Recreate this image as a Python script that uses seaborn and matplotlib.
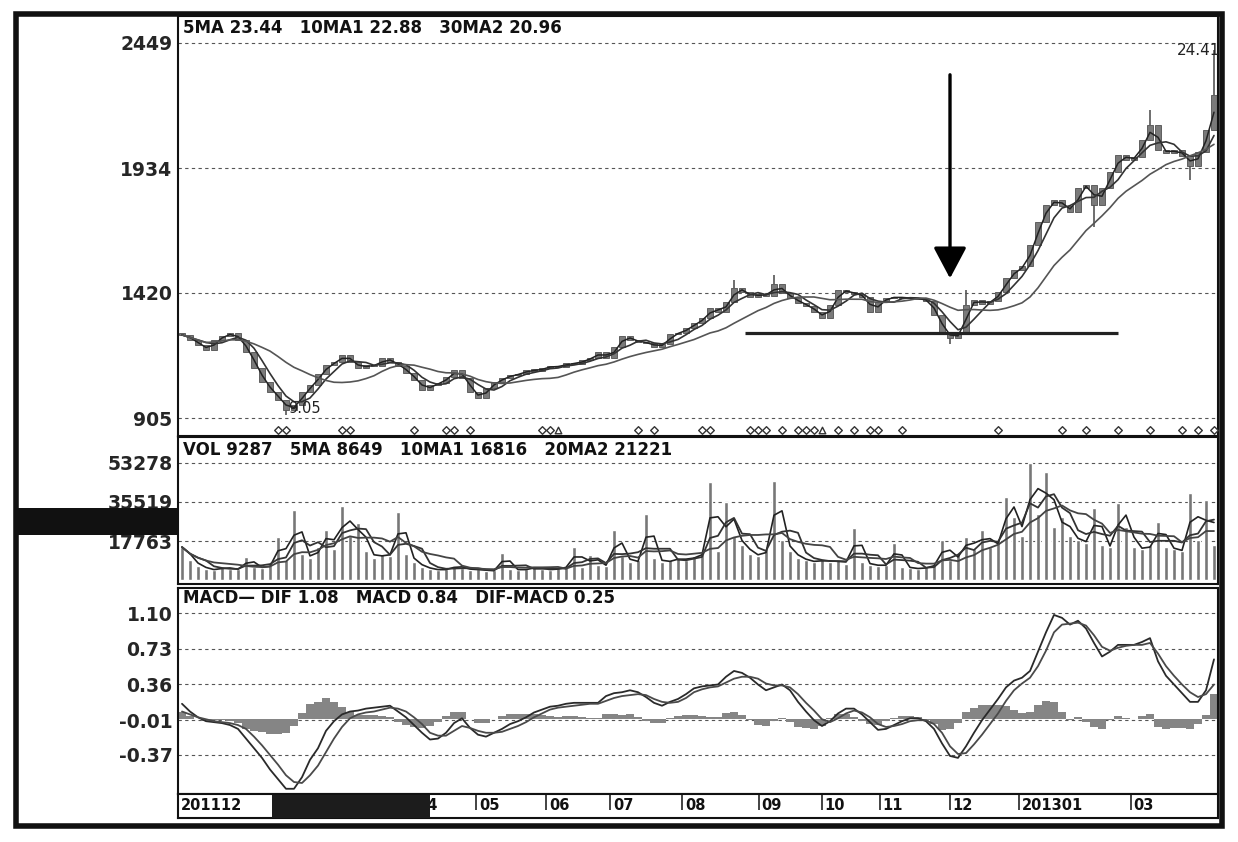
import numpy as np
import pandas as pd
import matplotlib
matplotlib.use("Agg")
import matplotlib.pyplot as plt
from matplotlib.patches import Rectangle
import seaborn as sns

# ---- data (one value per bar, ~2-3 trading days each) ----
close = [
    1247, 1226, 1206, 1185, 1226, 1243, 1255, 1226, 1177, 1111,
    1053, 1012, 979, 938, 959, 1012, 1041, 1086, 1123, 1136,
    1165, 1136, 1111, 1123, 1119, 1152, 1136, 1119, 1090, 1062,
    1020, 1041, 1049, 1074, 1103, 1070, 1012, 987, 1029, 1053,
    1070, 1082, 1086, 1103, 1099, 1111, 1119, 1115, 1132, 1127,
    1144, 1152, 1177, 1152, 1198, 1243, 1226, 1218, 1214, 1198,
    1210, 1251, 1255, 1276, 1296, 1317, 1358, 1342, 1383, 1441,
    1424, 1404, 1416, 1408, 1457, 1420, 1399, 1379, 1366, 1342,
    1317, 1371, 1432, 1424, 1416, 1404, 1342, 1383, 1399, 1404,
    1399, 1399, 1395, 1387, 1329, 1259, 1235, 1251, 1371, 1391,
    1375, 1387, 1424, 1482, 1515, 1531, 1618, 1713, 1783, 1803,
    1778, 1754, 1853, 1865, 1783, 1853, 1919, 1989, 1968, 1980,
    2050, 2112, 2009, 1997, 2009, 1984, 1943, 2001, 2092, 2236,
]
wick_bar = [13, 69, 74, 96, 98, 114, 121, 126, 129]
wick_val = [917, 1474, 1494, 1210, 1432, 1692, 2174, 1886, 2420]

volume = [
    15000, 9000, 6500, 5000, 4500, 6000, 5000, 4800, 10500, 6000,
    5500, 7000, 19600, 9000, 31800, 12000, 10000, 15000, 22700, 14000,
    33700, 20000, 26000, 13000, 10000, 12000, 11000, 31000, 12000, 8000,
    6000, 5000, 4500, 5000, 6500, 5500, 4500, 5000, 4000, 4500,
    12300, 5000, 4500, 5000, 6000, 5000, 4500, 5500, 6000, 15000,
    6000, 11400, 7000, 6500, 22700, 11000, 8000, 9000, 30000, 10000,
    8000, 9000, 10000, 9000, 11000, 12000, 44600, 13000, 35500, 20000,
    16000, 12000, 11000, 14000, 45000, 18000, 13000, 10000, 9000, 8000,
    9500, 8000, 9000, 7500, 23600, 8000, 7000, 6500, 7000, 16800,
    6000, 5500, 5000, 6000, 7000, 18200, 9000, 12000, 19600, 14000,
    22700, 15000, 18000, 37800, 28700, 20000, 53200, 30000, 49100, 24000,
    28700, 20000, 18000, 17000, 32700, 16000, 15000, 35000, 24100, 15000,
    14000, 16000, 26400, 15000, 14000, 13000, 39600, 18000, 36400, 16000,
]

dif = [
    0.16, 0.08, 0.02, -0.02, -0.03, -0.04, -0.06, -0.10, -0.20, -0.30,
    -0.40, -0.52, -0.62, -0.72, -0.72, -0.60, -0.42, -0.30, -0.12, -0.02,
    0.05, 0.08, 0.09, 0.11, 0.12, 0.13, 0.14, 0.08, 0.02, -0.06,
    -0.14, -0.21, -0.20, -0.14, -0.04, 0.01, -0.09, -0.16, -0.18, -0.14,
    -0.10, -0.05, -0.02, 0.02, 0.07, 0.10, 0.13, 0.14, 0.16, 0.17,
    0.17, 0.17, 0.17, 0.24, 0.27, 0.28, 0.30, 0.28, 0.23, 0.17,
    0.14, 0.18, 0.21, 0.26, 0.32, 0.34, 0.35, 0.36, 0.44, 0.50,
    0.48, 0.43, 0.36, 0.30, 0.33, 0.36, 0.30, 0.18, 0.08, -0.01,
    -0.07, -0.02, 0.06, 0.11, 0.11, 0.05, -0.03, -0.11, -0.10, -0.06,
    -0.02, 0.01, 0.01, -0.02, -0.10, -0.25, -0.38, -0.40, -0.28, -0.14,
    -0.01, 0.10, 0.21, 0.33, 0.40, 0.43, 0.50, 0.70, 0.90, 1.08,
    1.05, 0.98, 1.02, 0.94, 0.79, 0.65, 0.70, 0.77, 0.77, 0.77,
    0.80, 0.84, 0.60, 0.45, 0.36, 0.27, 0.18, 0.18, 0.30, 0.62,
]
dea = [
    0.08, 0.05, 0.02, 0.00, -0.02, -0.03, -0.04, -0.06, -0.10, -0.18,
    -0.27, -0.37, -0.47, -0.58, -0.65, -0.66, -0.58, -0.48, -0.34, -0.20,
    -0.08, 0.01, 0.05, 0.07, 0.08, 0.10, 0.12, 0.11, 0.08, 0.02,
    -0.05, -0.14, -0.17, -0.17, -0.12, -0.07, -0.09, -0.12, -0.14, -0.14,
    -0.13, -0.10, -0.07, -0.03, 0.02, 0.06, 0.10, 0.12, 0.13, 0.14,
    0.15, 0.16, 0.16, 0.19, 0.22, 0.24, 0.25, 0.26, 0.25, 0.21,
    0.18, 0.17, 0.18, 0.22, 0.28, 0.31, 0.33, 0.34, 0.38, 0.42,
    0.44, 0.44, 0.42, 0.37, 0.35, 0.35, 0.33, 0.26, 0.17, 0.09,
    0.00, -0.03, 0.01, 0.06, 0.09, 0.07, 0.02, -0.05, -0.08, -0.07,
    -0.05, -0.02, -0.01, -0.01, -0.05, -0.14, -0.28, -0.36, -0.35, -0.26,
    -0.16, -0.05, 0.06, 0.19, 0.30, 0.37, 0.43, 0.55, 0.71, 0.90,
    0.98, 0.99, 1.00, 0.97, 0.87, 0.75, 0.71, 0.74, 0.76, 0.77,
    0.77, 0.79, 0.68, 0.55, 0.45, 0.36, 0.28, 0.23, 0.26, 0.36,
]

signal_bars = [12, 13, 20, 21, 29, 33, 34, 36, 45, 46, 57, 59, 65, 66,
               71, 72, 73, 75, 77, 78, 79, 82, 84, 86, 87, 90, 102, 110,
               113, 117, 121, 125, 127, 129]
triangle_bars = [47, 80]

month_labels = ["201112", "04", "05", "06", "07", "08", "09", "10", "11",
                "12", "201301", "03"]
month_pos = [-0.5, 29, 36.75, 45.5, 53.5, 62.5, 72.1, 80, 87.25, 96,
             104.6, 118.6]

price_ticks = [905, 1420, 1934, 2449]
vol_ticks = [17763, 35519, 53278]
macd_ticks = [-0.37, -0.01, 0.36, 0.73, 1.10]
macd_tick_labels = ["-0.37", "-0.01", "0.36", "0.73", "1.10"]

price_header = "5MA 23.44   10MA1 22.88   30MA2 20.96"
vol_header = "VOL 9287   5MA 8649   10MA1 16816   20MA2 21221"
macd_header = "MACD\u2014 DIF 1.08   MACD 0.84   DIF-MACD 0.25"

# ---- frame ----
sns.set_theme(style="white")
plt.rcParams["font.family"] = ["DejaVu Sans"]

W, H = 1238, 842
fig = plt.figure(figsize=(W / 100, H / 100), dpi=100)
fig.patch.set_facecolor("white")


def box(x0, y0, x1, y1):
    return [x0 / W, 1 - y1 / H, (x1 - x0) / W, (y1 - y0) / H]


ax_p = fig.add_axes(box(178, 16, 1218, 436))
ax_v = fig.add_axes(box(178, 437, 1218, 584))
ax_m = fig.add_axes(box(178, 588, 1218, 794))
ax_d = fig.add_axes(box(178, 794, 1218, 818))

n = len(close)
idx = np.arange(n)
s_close = pd.Series(close, dtype=float)
opens = pd.Series([close[0]] + close[:-1], dtype=float)

grid_kw = dict(color="#555555", lw=0.8, ls=(0, (3, 3)), zorder=0)

# ---- price panel ----
bottoms = np.minimum(opens, s_close)
heights = np.maximum(np.abs(s_close - opens), 6)
ax_p.bar(idx, heights, bottom=bottoms, width=0.8, color="#7a7a7a",
         edgecolor="#505050", linewidth=0.6, zorder=2)
ax_p.vlines(wick_bar, [close[i] for i in wick_bar], wick_val,
            color="#555555", lw=1.2, zorder=2)

ma_lines = [(2, "#222222", 1.1), (4, "#333333", 1.2), (12, "#555555", 1.2)]
for win, col, lw in ma_lines:
    sns.lineplot(x=idx, y=s_close.rolling(win, min_periods=1).mean(),
                 ax=ax_p, color=col, lw=lw, legend=False, zorder=3)

for t in price_ticks:
    ax_p.axhline(t, **grid_kw)

ax_p.scatter(signal_bars, [856] * len(signal_bars), marker="D", s=15,
             facecolors="white", edgecolors="#333333", linewidths=1.0, zorder=4)
ax_p.scatter(triangle_bars, [856] * len(triangle_bars), marker="^", s=22,
             facecolors="white", edgecolors="#333333", linewidths=1.0, zorder=4)

ax_p.hlines(1255, 70.4, 117, color="#222222", lw=2.3, zorder=5)
ax_p.annotate("", xy=(96, 1480), xytext=(96, 2318),
              arrowprops=dict(arrowstyle="-|>,head_length=1.6,head_width=0.85",
                              color="black", lw=2.4, shrinkA=0, shrinkB=0),
              zorder=6)
ax_p.text(13.3, 946, "9.05", fontsize=10.5, color="#222222",
          ha="left", va="center", zorder=5)
ax_p.text(124.3, 2420, "24.41", fontsize=11, color="#222222",
          ha="left", va="center", clip_on=True, zorder=5)

ax_p.set_ylim(831, 2560)
ax_p.set_yticks(price_ticks)
ax_p.set_yticklabels([str(t) for t in price_ticks])
ax_p.text(0.005, 0.972, price_header, transform=ax_p.transAxes,
          fontsize=12, fontweight="bold", color="#111111", va="center")

# ---- volume panel ----
s_vol = pd.Series(volume, dtype=float)
ax_v.bar(idx, s_vol, width=0.45, color="#777777", zorder=2)
vol_ma = [(2, "#222222", 1.2), (4, "#333333", 1.3), (8, "#444444", 1.3)]
for win, col, lw in vol_ma:
    sns.lineplot(x=idx, y=s_vol.rolling(win, min_periods=1).mean(),
                 ax=ax_v, color=col, lw=lw, legend=False, zorder=3)
for t in vol_ticks:
    ax_v.axhline(t, **grid_kw)
ax_v.set_ylim(-1800, 65100)
ax_v.set_yticks(vol_ticks)
ax_v.set_yticklabels([str(t) for t in vol_ticks])
ax_v.text(0.005, 0.91, vol_header, transform=ax_v.transAxes,
          fontsize=12, fontweight="bold", color="#111111", va="center")

# ---- MACD panel ----
s_dif = pd.Series(dif)
s_dea = pd.Series(dea)
hist = s_dif - s_dea
for t in macd_ticks:
    ax_m.axhline(t, **grid_kw)
ax_m.bar(idx, hist, width=1.0, color="#858585", edgecolor="none", zorder=2)
sns.lineplot(x=idx, y=s_dif, ax=ax_m, color="#2a2a2a", lw=1.3, legend=False, zorder=3)
sns.lineplot(x=idx, y=s_dea, ax=ax_m, color="#4a4a4a", lw=1.3, legend=False, zorder=3)
ax_m.set_ylim(-0.774, 1.359)
ax_m.set_yticks(macd_ticks)
ax_m.set_yticklabels(macd_tick_labels)
ax_m.text(0.005, 0.951, macd_header, transform=ax_m.transAxes,
          fontsize=12, fontweight="bold", color="#111111", va="center")

# ---- date strip ----
ax_d.set_ylim(0, 1)
ax_d.vlines(month_pos[1:], 0.35, 1.0, color="#222222", lw=1.2)
for lab, pos in zip(month_labels, month_pos):
    ax_d.text(pos + 0.35, 0.5, lab, fontsize=10.5, fontweight="bold",
              ha="left", va="center", color="#111111")
ax_d.set_yticks([])

# ---- shared styling ----
for ax in (ax_p, ax_v, ax_m, ax_d):
    ax.set_xlim(-0.5, n - 0.5)
    ax.set_xticks([])
    ax.set_xlabel("")
    ax.set_ylabel("")
    ax.set_facecolor("white")
    ax.tick_params(axis="y", length=0, pad=4, labelsize=13.5)
    for lbl in ax.get_yticklabels():
        lbl.set_fontweight("bold")
    for sp in ax.spines.values():
        sp.set_visible(True)
        sp.set_color("#111111")
        sp.set_linewidth(1.5)

# outer frame and the blacked-out patches of the scan
fig.patches.append(Rectangle((16 / W, 1 - 826 / H), (1222 - 16) / W, (826 - 14) / H,
                             transform=fig.transFigure, fill=False,
                             edgecolor="#111111", lw=4))
fig.patches.append(Rectangle((14 / W, 1 - 535 / H), (178 - 14) / W, 27 / H,
                             transform=fig.transFigure, facecolor="#111111",
                             edgecolor="none"))
fig.patches.append(Rectangle((272 / W, 1 - 818 / H), (430 - 272) / W, 23 / H,
                             transform=fig.transFigure, facecolor="#1c1c1c",
                             edgecolor="none"))

fig.savefig("out.png", dpi=100, facecolor="white")
